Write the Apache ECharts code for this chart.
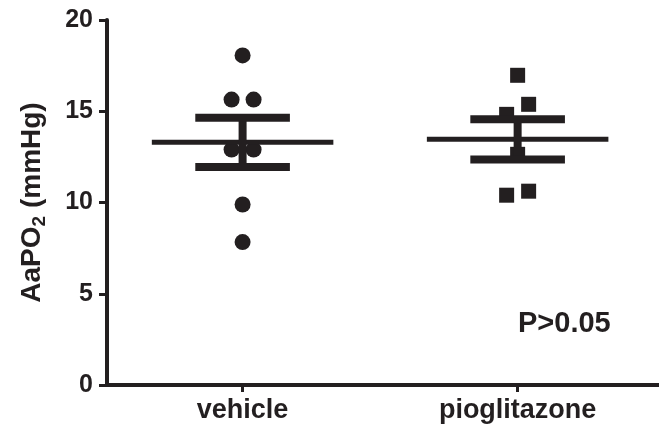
<!DOCTYPE html>
<html>
<head>
<meta charset="utf-8">
<script src="https://cdn.jsdelivr.net/npm/echarts@6/dist/echarts.min.js"></script>
<style>
  html, body { margin: 0; padding: 0; background: #ffffff; }
  #chart { width: 659px; height: 428px; }
</style>
</head>
<body>
<div id="chart"></div>
<script>
// Groups along the x axis (placed at positions 1 and 2)
const groups = ['vehicle', 'pioglitazone'];

// Individual AaPO2 values (mmHg) and their horizontal spread within each column
const vehicleValues = [18.06, 15.64, 15.64, 12.9, 12.9, 9.89, 7.83];
const vehicleSpread = [0, -0.04, 0.04, -0.04, 0.04, 0, 0];
const pioValues = [16.97, 15.38, 14.83, 12.64, 10.4, 10.62];
const pioSpread = [0, 0.04, -0.04, 0, -0.04, 0.04];

// Group mean and standard error of the mean
const groupMeans = [13.3, 13.46];
const groupSEM = [1.35, 1.1];

// Y axis ticks
const yTicks = [0, 5, 10, 15, 20];

const ink = '#231f20';
const fontFamily = '"Liberation Sans", Arial, Helvetica, sans-serif';

function points(pos, spread, values) {
  return values.map((v, i) => [pos + spread[i], v]);
}

const summaryData = groupMeans.map((m, i) => [i + 1, m, m + groupSEM[i], m - groupSEM[i]]);

const chart = echarts.init(document.getElementById('chart'), null, { renderer: 'canvas' });

chart.setOption({
  animation: false,
  backgroundColor: '#ffffff',
  grid: { left: 107, right: 0, top: 20, bottom: 43, containLabel: false },
  xAxis: {
    type: 'value',
    min: 0.507,
    max: 2.514,
    splitLine: { show: false },
    axisLine: { show: true, onZero: false, lineStyle: { color: ink, width: 4 } },
    axisTick: { show: true, customValues: [1, 2], length: 7, lineStyle: { color: ink, width: 3 } },
    axisLabel: {
      show: true,
      customValues: [1, 2],
      formatter: v => groups[Math.round(v) - 1],
      color: ink,
      fontSize: 27,
      fontWeight: 'bold',
      fontFamily: fontFamily,
      margin: 12
    }
  },
  yAxis: {
    type: 'value',
    min: yTicks[0],
    max: yTicks[yTicks.length - 1],
    interval: 5,
    splitLine: { show: false },
    axisLine: { show: true, lineStyle: { color: ink, width: 4 } },
    axisTick: { show: true, length: 8, lineStyle: { color: ink, width: 3 } },
    axisLabel: {
      color: ink,
      fontSize: 25,
      fontWeight: 'bold',
      fontFamily: fontFamily,
      margin: 14
    },
    name: '{a|AaPO}{s|2}{a| (mmHg)}',
    nameLocation: 'middle',
    nameGap: 58,
    nameRotate: 90,
    nameTextStyle: {
      color: ink,
      fontFamily: fontFamily,
      rich: {
        a: { fontSize: 28, fontWeight: 'bold', color: ink, fontFamily: fontFamily, lineHeight: 34 },
        s: { fontSize: 19, fontWeight: 'bold', color: ink, fontFamily: fontFamily, lineHeight: 26, verticalAlign: 'bottom' }
      }
    }
  },
  series: [
    {
      name: 'vehicle',
      type: 'scatter',
      symbol: 'circle',
      symbolSize: 16,
      itemStyle: { color: ink, opacity: 1 },
      data: points(1, vehicleSpread, vehicleValues),
      z: 2
    },
    {
      name: 'pioglitazone',
      type: 'scatter',
      symbol: 'rect',
      symbolSize: 15,
      itemStyle: { color: ink, opacity: 1 },
      data: points(2, pioSpread, pioValues),
      z: 2
    },
    {
      // mean line with SEM error bars for each group
      type: 'custom',
      z: 3,
      data: summaryData,
      renderItem: function (params, api) {
        const x = api.value(0);
        const mean = api.value(1);
        const hi = api.value(2);
        const lo = api.value(3);
        const meanL = api.coord([x - 0.33, mean]);
        const meanR = api.coord([x + 0.33, mean]);
        const top = api.coord([x, hi]);
        const bot = api.coord([x, lo]);
        const capL = api.coord([x - 0.172, hi])[0];
        const capR = api.coord([x + 0.172, hi])[0];
        const style = { stroke: ink, fill: null, lineCap: 'butt' };
        return {
          type: 'group',
          children: [
            { type: 'line', shape: { x1: meanL[0], y1: meanL[1], x2: meanR[0], y2: meanR[1] }, style: Object.assign({}, style, { lineWidth: 5 }) },
            { type: 'line', shape: { x1: top[0], y1: top[1], x2: bot[0], y2: bot[1] }, style: Object.assign({}, style, { lineWidth: 8 }) },
            { type: 'line', shape: { x1: capL, y1: top[1], x2: capR, y2: top[1] }, style: Object.assign({}, style, { lineWidth: 8 }) },
            { type: 'line', shape: { x1: capL, y1: bot[1], x2: capR, y2: bot[1] }, style: Object.assign({}, style, { lineWidth: 8 }) }
          ]
        };
      }
    }
  ],
  graphic: [
    {
      type: 'text',
      left: 518,
      top: 309,
      style: {
        text: 'P>0.05',
        fill: ink,
        font: 'bold 29px ' + fontFamily
      }
    }
  ]
});
</script>
</body>
</html>
